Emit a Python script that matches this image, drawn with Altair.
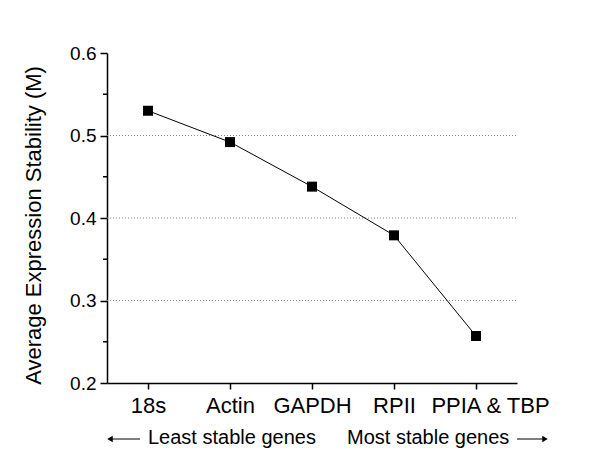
import altair as alt
import pandas as pd

genes = ["18s", "Actin", "GAPDH", "RPII", "PPIA & TBP"]
stability = [0.530, 0.492, 0.438, 0.379, 0.257]
grid_values = [0.3, 0.4, 0.5]
minor_ticks = [0.25, 0.35, 0.45, 0.55]
y_ticks = [0.2, 0.3, 0.4, 0.5, 0.6]

FONT = "Liberation Sans"

df = pd.DataFrame({"gene": genes, "M": stability})
grid_df = pd.DataFrame({"g": grid_values})
minor_df = pd.DataFrame({"m": minor_ticks})

yscale = alt.Scale(domain=[0.2, 0.6], nice=False, zero=False)
xscale = alt.Scale(type="point", padding=0.5)

base = alt.Chart(df)

line = base.mark_line(color="black", strokeWidth=1).encode(
    x=alt.X("gene:N", sort=genes, scale=xscale,
            axis=alt.Axis(title=None, labelAngle=0, labelFontSize=22, labelFont=FONT,
                          labelColor="black", tickSize=6, tickColor="black",
                          domainColor="black", domainWidth=1.5, tickWidth=1.5,
                          labelPadding=6, labelOverlap=False, grid=False,
                          labelOffset=alt.ExprRef("datum.value == 'PPIA & TBP' ? 14 : 0"))),
    y=alt.Y("M:Q", scale=yscale,
            axis=alt.Axis(title="Average Expression Stability (M)", values=y_ticks,
                          format=".1f", grid=False, labelFontSize=19, labelFont=FONT,
                          labelColor="black", tickSize=7, tickColor="black",
                          domainColor="black", domainWidth=1.5, tickWidth=1.5,
                          labelPadding=4, titleFont=FONT, titleFontSize=22,
                          titleFontWeight="normal", titleColor="black",
                          titlePadding=24, titleY=172)),
)

points = base.mark_point(shape="square", filled=True, color="black", size=100, opacity=1).encode(
    x=alt.X("gene:N", sort=genes, scale=xscale),
    y=alt.Y("M:Q", scale=yscale),
)

grid = alt.Chart(grid_df).mark_rule(color="#888888", strokeDash=[1, 2], strokeWidth=1).encode(
    y=alt.Y("g:Q", scale=yscale),
    x=alt.value(0), x2=alt.value(410),
)

minor = alt.Chart(minor_df).mark_rule(color="black", strokeWidth=1.5).encode(
    y=alt.Y("m:Q", scale=yscale),
    x=alt.value(-4), x2=alt.value(0),
)

text_left = alt.Chart(pd.DataFrame({"t": ["Least stable genes"]})).mark_text(
    align="left", baseline="middle", fontSize=20, font=FONT, color="black"
).encode(text="t:N", x=alt.value(41), y=alt.value(385))
text_right = alt.Chart(pd.DataFrame({"t": ["Most stable genes"]})).mark_text(
    align="left", baseline="middle", fontSize=20, font=FONT, color="black"
).encode(text="t:N", x=alt.value(240), y=alt.value(385))

arrow_l = alt.Chart(pd.DataFrame({"a": [0]})).mark_rule(color="black", strokeWidth=1).encode(
    x=alt.value(2), x2=alt.value(33), y=alt.value(386))
arrow_r = alt.Chart(pd.DataFrame({"a": [0]})).mark_rule(color="black", strokeWidth=1).encode(
    x=alt.value(410), x2=alt.value(438), y=alt.value(386))
head_l = alt.Chart(pd.DataFrame({"a": [0]})).mark_point(
    shape="triangle-left", filled=True, color="black", size=40, opacity=1
).encode(x=alt.value(3), y=alt.value(386))
head_r = alt.Chart(pd.DataFrame({"a": [0]})).mark_point(
    shape="triangle-right", filled=True, color="black", size=40, opacity=1
).encode(x=alt.value(438), y=alt.value(386))

chart = alt.layer(grid, minor, line, points, text_left, text_right,
                  arrow_l, arrow_r, head_l, head_r).properties(
    width=410, height=330,
    background="white",
    autosize=alt.AutoSizeParams(type="none"),
    padding={"left": 99, "top": 45, "right": 75, "bottom": 68},
).configure_view(stroke=None, strokeWidth=0)

chart.save("out.html", embed_options={"renderer": "svg", "actions": False})
